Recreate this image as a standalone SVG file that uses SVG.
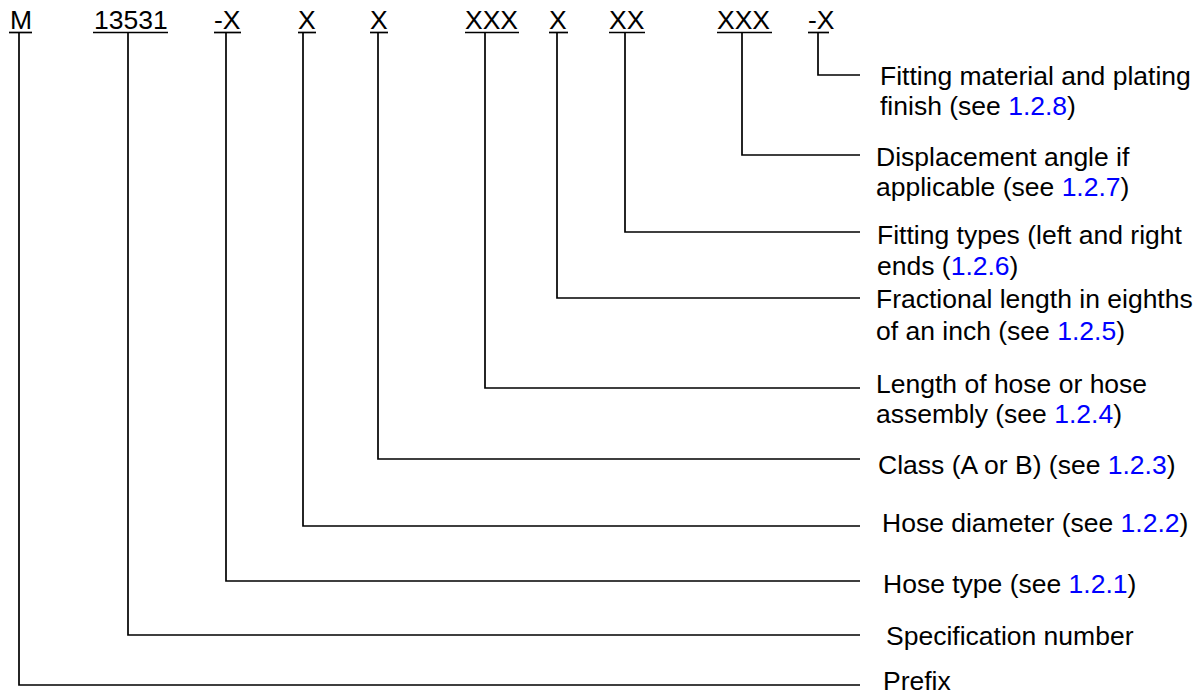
<svg xmlns="http://www.w3.org/2000/svg" width="1197" height="692" viewBox="0 0 1197 692">
<style>
text{font-family:"Liberation Sans",Arial,sans-serif;font-size:26.5px;fill:#000}
.ref{fill:#0000FF}
.ln{fill:none;stroke:#000;stroke-width:1.7}
</style>
<rect width="1197" height="692" fill="#fff"/>
<g id="code">
<g id="c-m"><text x="10" y="29">M</text><line class="ln" x1="9" y1="32.5" x2="32" y2="32.5"/></g>
<g id="c-spec"><text x="94" y="29">13531</text><line class="ln" x1="93" y1="32.5" x2="168" y2="32.5"/></g>
<g id="c-type"><text x="214" y="29">-X</text><line class="ln" x1="214" y1="32.5" x2="241" y2="32.5"/></g>
<g id="c-dia"><text x="298" y="29">X</text><line class="ln" x1="298" y1="32.5" x2="316" y2="32.5"/></g>
<g id="c-class"><text x="370" y="29">X</text><line class="ln" x1="370" y1="32.5" x2="388" y2="32.5"/></g>
<g id="c-len"><text x="465" y="29">XXX</text><line class="ln" x1="465" y1="32.5" x2="519" y2="32.5"/></g>
<g id="c-frac"><text x="549" y="29">X</text><line class="ln" x1="549" y1="32.5" x2="568" y2="32.5"/></g>
<g id="c-fit"><text x="609" y="29">XX</text><line class="ln" x1="609" y1="32.5" x2="645" y2="32.5"/></g>
<g id="c-ang"><text x="717" y="29">XXX</text><line class="ln" x1="717" y1="32.5" x2="772" y2="32.5"/></g>
<g id="c-mat"><text x="808" y="29">-X</text><line class="ln" x1="808" y1="32.5" x2="829" y2="32.5"/></g>
</g>
<g id="connectors">
<polyline class="ln" points="818,33 818,75 860,75"/>
<polyline class="ln" points="742,33 742,155 860,155"/>
<polyline class="ln" points="625,33 625,232 860,232"/>
<polyline class="ln" points="557,33 557,298 860,298"/>
<polyline class="ln" points="485,33 485,388 860,388"/>
<polyline class="ln" points="378,33 378,459 860,459"/>
<polyline class="ln" points="303,33 303,526 860,526"/>
<polyline class="ln" points="226,33 226,581 860,581"/>
<polyline class="ln" points="128,33 128,635 860,635"/>
<polyline class="ln" points="19,33 19,685 860,685"/>
</g>
<g id="labels">
<g id="l-mat"><text x="880" y="85">Fitting material and plating</text><text x="880" y="115">finish (see <tspan class="ref">1.2.8</tspan>)</text></g>
<g id="l-ang"><text x="876" y="166">Displacement angle if</text><text x="876" y="196">applicable (see <tspan class="ref">1.2.7</tspan>)</text></g>
<g id="l-fit"><text x="877" y="244">Fitting types (left and right</text><text x="877" y="275">ends (<tspan class="ref">1.2.6</tspan>)</text></g>
<g id="l-frac"><text x="876" y="308">Fractional length in eighths</text><text x="876" y="340">of an inch (see <tspan class="ref">1.2.5</tspan>)</text></g>
<g id="l-len"><text x="876" y="393">Length of hose or hose</text><text x="876" y="423">assembly (see <tspan class="ref">1.2.4</tspan>)</text></g>
<g id="l-class"><text x="878" y="474">Class (A or B) (see <tspan class="ref">1.2.3</tspan>)</text></g>
<g id="l-dia"><text x="882" y="532">Hose diameter (see <tspan class="ref">1.2.2</tspan>)</text></g>
<g id="l-type"><text x="883" y="593">Hose type (see <tspan class="ref">1.2.1</tspan>)</text></g>
<g id="l-spec"><text x="886" y="645">Specification number</text></g>
<g id="l-prefix"><text x="883" y="690">Prefix</text></g>
</g>
</svg>
